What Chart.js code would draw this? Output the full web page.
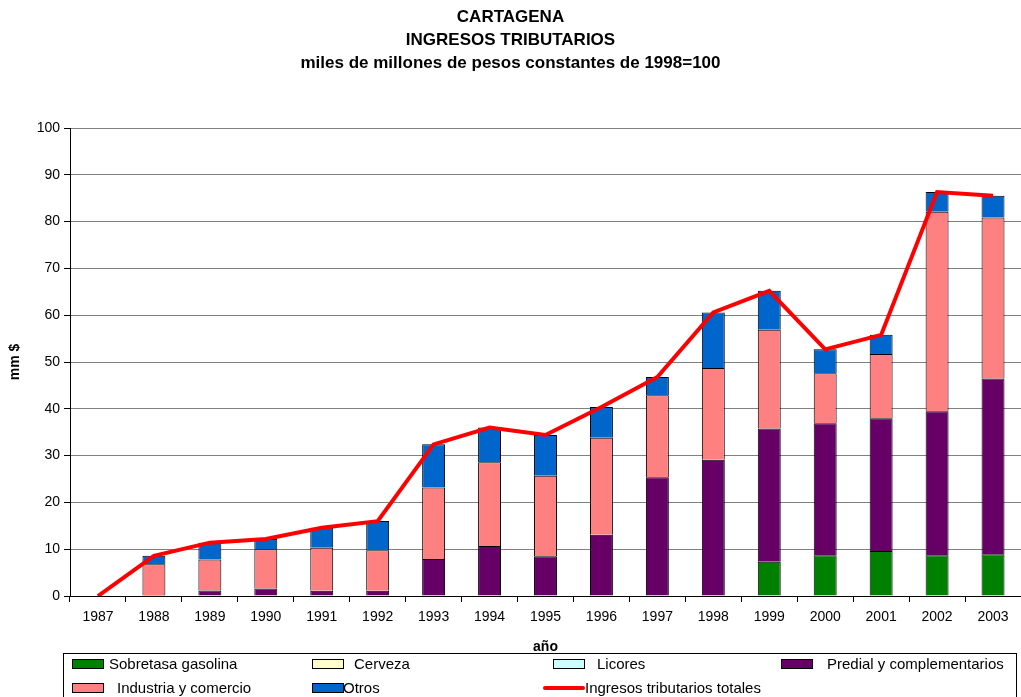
<!DOCTYPE html>
<html>
<head>
<meta charset="utf-8">
<script src="https://cdn.jsdelivr.net/npm/chart.js@4/dist/chart.umd.min.js"></script>
<style>
  body { margin: 0; background: #fff; font-family: Arial, 'Liberation Sans', sans-serif; }
  #wrap { position: relative; width: 1021px; height: 697px; overflow: hidden; }
  #legend { position: absolute; left: 63px; top: 653px; width: 952px; height: 44px; border: 1px solid #000; font-size: 15px; }
  .sw { position: absolute; width: 30px; height: 8px; border: 1px solid #000; }
  .ln { position: absolute; width: 42px; height: 4px; background: #f00; border-radius: 2px; }
  .tx { position: absolute; white-space: nowrap; line-height: 18px; }
</style>
</head>
<body>
<div id="wrap">
  <canvas id="chart" width="1021" height="697"></canvas>
  <div id="legend"></div>
</div>
<script>
// años
const years = ['1987','1988','1989','1990','1991','1992','1993','1994','1995','1996','1997','1998','1999','2000','2001','2002','2003'];

// componentes (miles de millones de pesos)
const sobretasa = [0,0,0,0,0,0,0,0,0,0,0,0,7.3,8.7,9.6,8.7,8.9];
const cerveza   = [0,0,0,0,0,0,0,0,0,0,0,0,0,0,0,0,0];
const licores   = [0,0,0,0,0,0,0,0,0,0,0,0,0,0,0,0,0];
const predial   = [0,0.2,1.2,1.6,1.1,1.1,7.9,10.7,8.5,13.1,25.4,29.1,28.5,28.2,28.4,30.8,37.6];
const industria = [0,6.6,6.6,8.4,9.2,8.7,15.3,17.9,17.2,20.7,17.5,19.6,21.1,10.7,13.7,42.6,34.4];
const otros     = [0,1.8,3.6,2.2,4.3,6.2,9.2,7.4,8.7,6.6,3.9,11.9,8.3,5.1,4.1,4.2,4.6];
const totales   = [0,8.6,11.4,12.2,14.6,16.0,32.4,36.0,34.4,40.4,46.8,60.6,65.2,52.7,55.8,86.3,85.5];

const yTicks = [0,10,20,30,40,50,60,70,80,90,100];

const bar = (label, data, color) => ({
  type: 'bar', label, data, backgroundColor: color,
  borderColor: '#000', borderWidth: 1, stack: 'comp',
  barPercentage: 0.41, categoryPercentage: 1.0, order: 2
});

const datasets = [
  bar('Sobretasa gasolina', sobretasa, '#008000'),
  bar('Cerveza', cerveza, '#FFFFCC'),
  bar('Licores', licores, '#CCFFFF'),
  bar('Predial y complementarios', predial, '#660066'),
  bar('Industria y comercio', industria, '#FF8080'),
  bar('Otros', otros, '#0066CC'),
  {
    type: 'line', label: 'Ingresos tributarios totales', data: totales,
    borderColor: '#FF0000', borderWidth: 4, pointRadius: 0, tension: 0,
    fill: false, stack: 'total', order: 1
  }
];

Chart.defaults.font.family = "Arial, 'Liberation Sans', sans-serif";
Chart.defaults.color = '#000';

const chart = new Chart(document.getElementById('chart'), {
  data: { labels: years, datasets },
  options: {
    responsive: false,
    animation: false,
    layout: { padding: { top: 0, left: 0, right: 0, bottom: 41 } },
    plugins: {
      legend: { display: false },
      tooltip: { enabled: false },
      title: {
        display: true,
        text: ['CARTAGENA', 'INGRESOS TRIBUTARIOS', 'miles de millones de pesos constantes de 1998=100'],
        font: { size: 17, weight: 'bold', lineHeight: 23 / 17 },
        padding: { top: 6, bottom: 53 }
      }
    },
    scales: {
      x: {
        stacked: true,
        grid: { drawOnChartArea: false, color: '#000', tickLength: 6, offset: true },
        border: { color: '#000' },
        ticks: { font: { size: 14 }, padding: 7, maxRotation: 0 },
        title: { display: true, text: 'año', font: { size: 14, weight: 'bold' }, padding: 0 },
        afterFit: s => { s.height = 60; }
      },
      y: {
        stacked: true,
        min: 0, max: 100,
        afterBuildTicks: s => { s.ticks = yTicks.map(v => ({ value: v })); },
        grid: { color: '#808080', tickLength: 6, tickColor: '#000' },
        border: { color: '#000' },
        ticks: { font: { size: 14 }, padding: 4 },
        title: { display: true, text: 'mm $', font: { size: 14, weight: 'bold' }, padding: { top: 7 } },
        afterFit: s => { s.width = 70; }
      }
    }
  }
});

// leyenda en caja, dos filas: [inicio muestra, inicio texto, centro y] en px de página
const legendPos = [
  [72, 109, 664], [312, 354, 664], [553, 597, 664], [781, 827, 664],
  [72, 117, 688], [312, 343, 688], [543, 585, 688]
];
const legend = document.getElementById('legend');
const box = { left: 64, top: 654 };
chart.data.datasets.forEach((ds, i) => {
  const [sx, tx, cy] = legendPos[i];
  const sw = document.createElement('div');
  if (ds.type === 'line') {
    sw.className = 'ln';
    sw.style.top = (cy - 2 - box.top) + 'px';
  } else {
    sw.className = 'sw';
    sw.style.background = ds.backgroundColor;
    sw.style.top = (cy - 5 - box.top) + 'px';
  }
  sw.style.left = (sx - box.left) + 'px';
  const t = document.createElement('div');
  t.className = 'tx';
  t.textContent = ds.label;
  t.style.left = (tx - box.left) + 'px';
  t.style.top = (cy - 9 - box.top) + 'px';
  legend.appendChild(sw);
  legend.appendChild(t);
});
</script>
</body>
</html>
